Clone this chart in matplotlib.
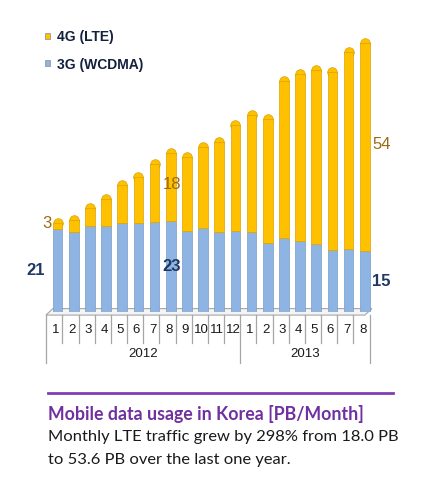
import matplotlib
matplotlib.use("Agg")
import matplotlib.pyplot as plt
from matplotlib.patches import Polygon
from matplotlib.transforms import blended_transform_factory

# data (PB / month)
months = ['1', '2', '3', '4', '5', '6', '7', '8', '9', '10', '11', '12',
          '1', '2', '3', '4', '5', '6', '7', '8']
years = ['2012', '2013']
year_spans = [(0, 12), (12, 20)]
wcdma = [21.0, 20.3, 21.8, 21.9, 22.6, 22.7, 23.0, 23.1, 20.6, 21.3,
         20.3, 20.6, 20.3, 17.6, 18.7, 18.0, 17.3, 15.7, 15.9, 15.5]
lte = [2.8, 4.4, 5.8, 8.1, 10.8, 12.8, 15.9, 18.5, 20.0, 22.0,
       24.2, 28.3, 31.2, 32.8, 41.4, 43.9, 45.5, 46.6, 51.5, 54.3]
series_names = ['4G (LTE)', '3G (WCDMA)']

# value labels: (bar index, series, text)
value_labels = [(0, 'lte', '3'), (0, '3g', '21'),
                (7, 'lte', '18'), (7, '3g', '23'),
                (19, 'lte', '54'), (19, '3g', '15')]

YELLOW = '#FFC000'
BLUE = '#8DB4E2'
BROWN = '#9C6A12'
NAVY = '#1F3864'
PURPLE = '#7030A0'

W, H = 442, 500
fig = plt.figure(figsize=(W / 100, H / 100), dpi=100)
base_px, top_px = 311.7, 30
ax = fig.add_axes([47 / W, 1 - base_px / H, (372 - 47) / W, (base_px - top_px) / H])
ax.set_xlim(-0.65, 19.45)
ax.set_ylim(0, (base_px - top_px) / 3.92)
ax.axis('off')

x = list(range(len(months)))
bw = 0.6
totals = [a + b for a, b in zip(wcdma, lte)]
cap = 1.2  # radius of the rounded top, data units

# floor slab (drawn first so bars sit on it)
tr_ax = ax.transAxes
slab = Polygon([(-0.003, -0.012), (0.978, -0.012), (1.0, 0.011), (0.018, 0.011)],
               closed=True, transform=tr_ax, facecolor='#f4f4f4',
               edgecolor='#a6a6a6', lw=0.8, clip_on=False, zorder=1)
ax.add_patch(slab)

ax.bar(x, wcdma, width=bw, color=BLUE, edgecolor='#7a9cc6', lw=0.5, zorder=3)
ax.bar(x, [t - cap - w for t, w in zip(totals, wcdma)], bottom=wcdma, width=bw,
       color=YELLOW, edgecolor='#d9a300', lw=0.5, zorder=3)
ax.scatter(x, [t - cap for t in totals], s=48, marker='o', color=YELLOW,
           edgecolors='#d9a300', linewidths=0.5, zorder=2)

# value labels
for i, s, t in value_labels:
    if s == 'lte':
        yv = wcdma[i] + lte[i] / 2
        col, wt = BROWN, 'normal'
    else:
        yv = wcdma[i] / 2
        col, wt = NAVY, 'bold'
    if i == 0:
        dx = -22 if s == '3g' else -11
    elif i == len(months) - 1:
        dx = 17
    else:
        dx = 1
    ax.annotate(t, (i, yv), xytext=(dx, 0), textcoords='offset pixels',
                ha='center', va='center', fontsize=12, color=col,
                fontweight=wt, family='Liberation Sans')

# category axis: months and years with separators
tb = blended_transform_factory(ax.transData, ax.transAxes)
shift = -0.2
for i in range(len(months) + 1):
    xb = i - 0.5 + shift
    y_end = -0.182 if i in (0, 12, 20) else -0.111
    ax.plot([xb, xb], [-0.012, y_end], transform=tb, color='#a6a6a6',
            lw=0.9, clip_on=False, zorder=1)
for i, m in enumerate(months):
    ax.text(i - 0.12, -0.065, m, transform=tb, ha='center', va='center',
            fontsize=9.5, family='Liberation Sans', color='#1a1a1a')
for (a, b), yr in zip(year_spans, years):
    ax.text((a + b - 1) / 2 + shift, -0.150, yr, transform=tb, ha='center',
            va='center', fontsize=9.5, family='Liberation Sans', color='#1a1a1a')

# legend
for k, (name, col) in enumerate(zip(series_names, [YELLOW, BLUE])):
    ypx = 36 + 27 * k
    fig.patches.append(plt.Rectangle((45 / W, 1 - (ypx + 2.5) / H), 5 / W, 5 / H,
                                     transform=fig.transFigure, facecolor=col,
                                     edgecolor='#8c8c8c', lw=0.5))
    fig.text(57 / W, 1 - (ypx + 1.5) / H, name, ha='left', va='center',
             fontsize=10, fontweight='bold', family='Liberation Sans', color='#14213d')

# caption
fig.add_artist(plt.Line2D([48 / W, 393 / W], [1 - 392.7 / H] * 2,
                          color='#7F3FB2', lw=2, transform=fig.transFigure))
fig.text(48 / W, 1 - 414 / H, 'Mobile data usage in Korea [PB/Month]',
         ha='left', va='center', fontsize=12.8, fontweight='bold',
         family='Lato', color=PURPLE)
fig.text(48 / W, 1 - 437 / H, 'Monthly LTE traffic grew by 298% from 18.0 PB',
         ha='left', va='center', fontsize=11.85, family='Lato', color='#1a1a1a')
fig.text(48 / W, 1 - 460 / H, 'to 53.6 PB over the last one year.',
         ha='left', va='center', fontsize=11.85, family='Lato', color='#1a1a1a')

fig.savefig('out.png', dpi=100)
